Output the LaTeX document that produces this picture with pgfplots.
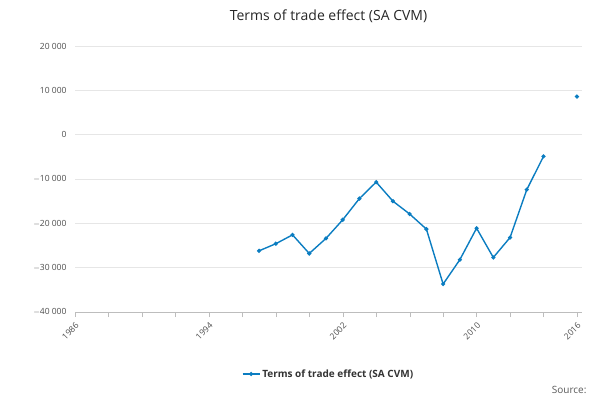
\documentclass[border=0pt]{standalone}
\usepackage{pgfplots}
\pgfplotsset{compat=1.18}
\usepackage{fontspec}
\setmainfont{Open Sans}
\definecolor{ons}{HTML}{0B7DC1}
\definecolor{gridc}{HTML}{E6E6E6}
\begin{document}
\begin{tikzpicture}
\path[use as bounding box] (0,0) rectangle (600pt,400pt);
\begin{axis}[
  at={(75pt,88pt)}, anchor=south west,
  width=507pt, height=266pt, scale only axis,
  xmin=1986, xmax=2016.3, ymin=-40000, ymax=20000,
  scaled y ticks=false,
  ytick={-40000,-30000,...,20000},
  yticklabels={$-$40 000,$-$30 000,$-$20 000,$-$10 000,0,10 000,20 000},
  xtick={1986,1994,2002,2010,2016},
  minor xtick={1988,1990,1992,1996,1998,2000,2004,2006,2008,2012,2014},
  xticklabel style={rotate=45, anchor=north east, font=\fontsize{8.5}{9}\selectfont, text=black!70},
  yticklabel style={font=\fontsize{8.5}{9}\selectfont, text=black!70},
  /pgf/number format/assume math mode=true,
  x tick label style={/pgf/number format/1000 sep=},
  ymajorgrids, grid style={gridc},
  axis y line*=left, axis x line*=bottom,
  y axis line style={draw=none},
  x axis line style={draw=gridc!60!gray},
  major tick length=5pt, minor tick length=5pt,
  tick style={gridc!60!gray},
  ytick style={draw=none},
  xtick pos=bottom,
  tick align=outside,
  unbounded coords=jump,
  title={Terms of trade effect (SA CVM)},
  title style={font=\fontsize{14}{16}\selectfont, text=black!85, at={(0.5,1)}, yshift=14pt},
  legend style={at={(0.5,-0.2)}, anchor=north, draw=none, font=\bfseries\fontsize{10}{12}\selectfont, text=black!80},
  legend image post style={mark size=1.3pt},
]
\addplot[ons, line width=1.4pt, mark=*, mark size=1.3pt] coordinates {
(1997,-26200)(1998,-24600)(1999,-22600)(2000,-26800)(2001,-23400)(2002,-19200)
(2003,-14400)(2004,-10700)(2005,-15000)(2006,-17900)(2007,-21300)(2008,-33700)
(2009,-28200)(2010,-21100)(2011,-27700)(2012,-23200)(2013,-12400)(2014,-4900)
(2015,nan)(2016,8600)};
\addlegendentry{Terms of trade effect (SA CVM)}
\end{axis}
\node[anchor=south east, font=\fontsize{10}{12}\selectfont, text=black!65] at (590pt,3pt) {Source:};
\end{tikzpicture}
\end{document}
